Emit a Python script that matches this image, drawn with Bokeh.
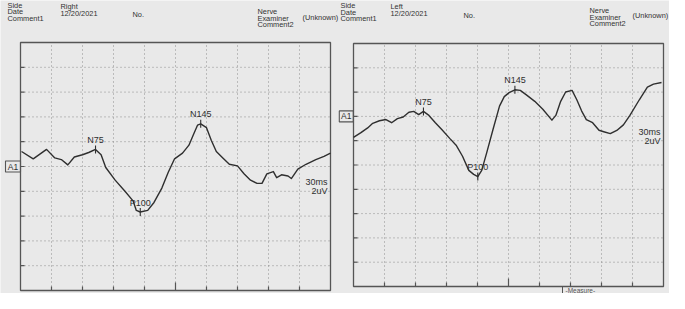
from bokeh.plotting import figure
from bokeh.models import Range1d
from bokeh.core.properties import value
from bokeh.embed import file_html
from bokeh.resources import INLINE

# ---------------- data ----------------
TIME_GRID = [0, 30, 60, 90, 120, 150, 180, 210, 240, 270, 300]   # ms (30 ms / div)
UV_STEP = 2                                                        # uV / div

LEFT_T = [1.0, 12.3, 25.2, 33.2, 39.5, 45.8, 52.1, 60.0, 66.0, 72.6, 78.0, 82.5,
          91.6, 101.1, 108.9, 112.1, 115.9, 123.1, 129.2, 136.8, 143.0, 149.1,
          156.8, 163.0, 167.6, 171.3, 174.4, 180.0, 184.7, 189.5, 195.8, 202.1,
          210.0, 216.3, 222.6, 228.9, 233.7, 238.4, 244.7, 247.9, 252.6, 258.9,
          262.1, 268.4, 276.3, 285.8, 293.7, 300.0]
LEFT_UV = [1.21, 0.62, 1.38, 0.69, 0.56, 0.13, 0.77, 0.95, 1.13, 1.38, 0.95, -0.08,
           -1.10, -2.00, -2.77, -3.54, -3.67, -3.54, -2.90, -1.74, -0.46, 0.62,
           1.08, 1.72, 2.62, 3.33, 3.44, 3.13, 2.10, 1.21, 0.69, 0.18,
           0.05, -0.59, -1.10, -1.36, -1.36, -0.59, -0.41, -0.90, -0.67, -0.77,
           -0.97, -0.21, 0.18, 0.56, 0.82, 1.08]
LEFT_PEAK_T = [72.6, 115.9, 174.4]
LEFT_PEAK_UV = [1.38, -3.67, 3.44]

RIGHT_T = [0.0, 7.2, 13.7, 18.6, 25.1, 31.4, 36.9, 42.5, 48.1, 53.6, 58.3, 63.1,
           67.7, 73.0, 79.2, 85.4, 93.1, 99.3, 105.5, 111.6, 116.3, 120.3, 124.1,
           128.8, 135.0, 141.3, 145.9, 150.6, 156.2, 161.4, 167.6, 175.4, 183.2,
           192.0, 195.8, 200.5, 205.3, 211.5, 216.1, 220.7, 225.3, 231.4, 237.6,
           242.2, 248.5, 254.8, 261.2, 267.5, 276.6, 284.4, 290.3, 298.1]
RIGHT_UV = [-1.73, -1.34, -0.95, -0.57, -0.36, -0.26, -0.52, -0.18, -0.05, 0.34, 0.41, 0.15,
            0.41, 0.08, -0.52, -1.08, -1.81, -2.37, -3.28, -4.44, -4.77, -4.95, -4.44,
            -3.02, -1.08, 0.85, 1.63, 1.96, 2.19, 2.14, 1.75, 1.24, 0.59,
            -0.31, 0.08, 1.24, 2.01, 2.14, 1.37, 0.46, -0.26, -0.52, -1.14,
            -1.26, -1.42, -1.16, -0.70, 0.08, 1.37, 2.40, 2.66, 2.79]
RIGHT_PEAK_T = [67.7, 120.3, 156.2]
RIGHT_PEAK_UV = [0.41, -4.95, 2.19]

PEAK_NAMES = ["N75", "P100", "N145"]
SCALE_TEXT = ["30ms", "2uV"]
CHANNEL = "A1"
MEASURE = "-Measure-"

LEFT_HEADER = ["Side", "Date", "Comment1", "Right", "12/20/2021", "No.",
               "Nerve", "Examiner", "Comment2", "(Unknown)"]
RIGHT_HEADER = ["Side", "Date", "Comment1", "Left", "12/20/2021", "No.",
                "Nerve", "Examiner", "Comment2", "(Unknown)"]

# ---------------- layout / style ----------------
FONT = "Liberation Sans"
BG = "#e9e9e9"
INK = "#2f2f2f"
BOX = "#555555"
DOT = "#8c8c8c"
FIG_W, FIG_H = 669, 293

LEFT_CFG = dict(box=(20, 330, 42, 290), uv_top=10, uv_bot=-10,
                a1=(12.5, 15),
                hx=[7, 7, 7, 60, 60, 132, 257, 257, 257, 302],
                hy=[5.0, 11.0, 17.5, 5.5, 12.5, 14.0, 11.0, 17.5, 24.0, 17.0])
RIGHT_CFG = dict(box=(353, 663, 43, 286), uv_top=6, uv_bot=-14,
                 a1=(345.8, 14),
                 hx=[340, 340, 340, 390, 390, 463, 589, 589, 589, 632],
                 hy=[5.0, 11.5, 18.0, 6.0, 13.0, 14.5, 10.0, 16.5, 23.0, 14.5],
                 measure_x=562, measure_y=289.5)

p = figure(width=FIG_W, height=FIG_H, x_axis_type=None, y_axis_type=None,
           output_backend="svg", toolbar_location=None, min_border=0)
p.outline_line_color = None
p.background_fill_color = BG
p.border_fill_color = BG


def panel(name, cfg, t, uv, pk_t, pk_uv, header):
    bl, br, bt, bb = cfg["box"]
    top, bot = cfg["uv_top"], cfg["uv_bot"]
    t0, t1 = TIME_GRID[0], TIME_GRID[-1]
    ppm = (br - bl) / (t1 - t0)
    ppu = (bb - bt) / (top - bot)

    def dx(px):
        return t0 + (px - bl) / ppm

    def dy(py):
        return top - (py - bt) / ppu

    xr = Range1d(dx(0), dx(FIG_W))
    yr = Range1d(dy(FIG_H), dy(0))
    if name == "default":
        p.x_range, p.y_range = xr, yr
        kw = {}
    else:
        p.extra_x_ranges[name] = xr
        p.extra_y_ranges[name] = yr
        kw = dict(x_range_name=name, y_range_name=name)

    inner_t = TIME_GRID[1:-1]
    levels = [bot + k * UV_STEP for k in range(1, int((top - bot) / UV_STEP))]

    # dotted grid
    p.segment(x0=inner_t, y0=[bot] * len(inner_t), x1=inner_t, y1=[top] * len(inner_t),
              line_color=DOT, line_width=1, line_dash="1 3", **kw)
    p.segment(x0=[t0] * len(levels), y0=levels, x1=[t1] * len(levels), y1=levels,
              line_color=DOT, line_width=1, line_dash="1 3", **kw)
    # ticks
    mid = TIME_GRID[len(TIME_GRID) // 2]
    tick_top = [bot + (8 if x == mid else 4) / ppu for x in inner_t]
    p.segment(x0=inner_t, y0=[bot] * len(inner_t), x1=inner_t, y1=tick_top,
              line_color=BOX, line_width=1.2, **kw)
    p.segment(x0=[t0] * len(levels), y0=levels, x1=[t0 + 4 / ppm] * len(levels), y1=levels,
              line_color=BOX, line_width=1.2, **kw)
    # box
    p.quad(left=[t0], right=[t1], bottom=[bot], top=[top], fill_color=None,
           line_color=BOX, line_width=1.3, **kw)

    # trace
    p.line(t, uv, line_color=INK, line_width=1.4, line_join="round", **kw)

    # peak markers
    p.segment(x0=pk_t, y0=[v - 4 / ppu for v in pk_uv], x1=pk_t, y1=[v + 4 / ppu for v in pk_uv],
              line_color=INK, line_width=1.1, **kw)
    p.text(x=pk_t, y=[v + 9.5 / ppu for v in pk_uv], text=PEAK_NAMES,
           text_font=value(FONT), text_font_size=value("9px"), text_color=INK,
           text_align="center", text_baseline="middle", **kw)

    # scale text
    p.text(x=[dx(br - 3)] * 2, y=[-15.5 / ppu, -24.5 / ppu], text=SCALE_TEXT,
           text_font=value(FONT), text_font_size=value("9px"), text_color=INK,
           text_align="right", text_baseline="middle", **kw)

    # channel box
    acx, aw = cfg["a1"]
    p.rect(x=[dx(acx)], y=[0], width=aw, height=11, width_units="screen",
           height_units="screen", fill_color=None, line_color=BOX, line_width=1.1, **kw)
    p.text(x=[dx(acx)], y=[0], text=[CHANNEL], text_font=value(FONT),
           text_font_size=value("8.5px"), text_color=INK,
           text_align="center", text_baseline="middle", **kw)

    # header
    p.text(x=[dx(v) for v in cfg["hx"]], y=[dy(v) for v in cfg["hy"]], text=header,
           text_font=value(FONT), text_font_size=value("7.4px"), text_color="#333333",
           text_align="left", text_baseline="middle", **kw)

    if "measure_x" in cfg:
        mx, my = cfg["measure_x"], cfg["measure_y"]
        p.segment(x0=[dx(mx)], y0=[bot], x1=[dx(mx)], y1=[dy(FIG_H)],
                  line_color=BOX, line_width=1, **kw)
        p.text(x=[dx(mx + 3)], y=[dy(my)], text=[MEASURE], text_font=value(FONT),
               text_font_size=value("6.5px"), text_color="#555555",
               text_align="left", text_baseline="middle", **kw)


panel("default", LEFT_CFG, LEFT_T, LEFT_UV, LEFT_PEAK_T, LEFT_PEAK_UV, LEFT_HEADER)
panel("right", RIGHT_CFG, RIGHT_T, RIGHT_UV, RIGHT_PEAK_T, RIGHT_PEAK_UV, RIGHT_HEADER)

open("out.html", "w").write(file_html(p, INLINE))
